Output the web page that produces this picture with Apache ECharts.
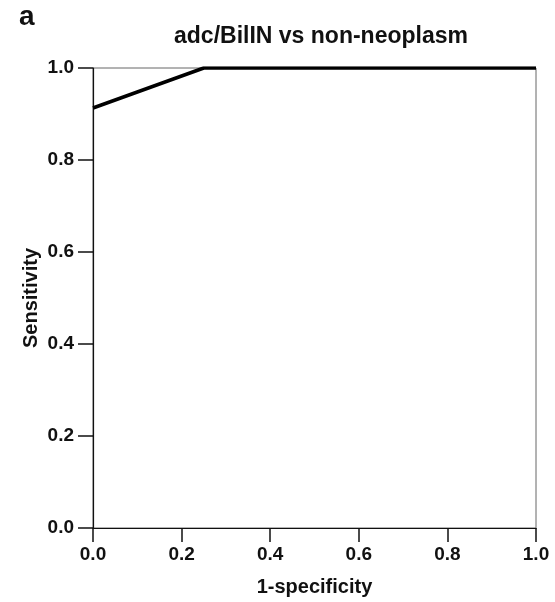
<!DOCTYPE html>
<html>
<head>
<meta charset="utf-8">
<script src="https://cdn.jsdelivr.net/npm/echarts@6/dist/echarts.min.js"></script>
<style>
  html, body { margin: 0; padding: 0; background: #fff; }
  #chart { width: 555px; height: 602px; }
</style>
</head>
<body>
<div id="chart"></div>
<script>
// ROC curve points
const fpr = [0.0, 0.25, 1.0];
const tpr = [0.913, 1.0, 1.0];
const tickStep = 0.2;

const font = 'Liberation Sans, Arial, sans-serif';
const chart = echarts.init(document.getElementById('chart'));

chart.setOption({
  animation: false,
  title: [
    {
      text: 'adc/BilIN vs non-neoplasm',
      left: 316, top: 20, textAlign: 'center',
      textStyle: { fontFamily: font, fontWeight: 'bold', fontSize: 23, color: '#111' }
    },
    {
      text: 'a',
      left: 14, top: -2,
      textStyle: { fontFamily: font, fontWeight: 'bold', fontSize: 28, color: '#111' }
    }
  ],
  grid: {
    left: 93, right: 19, top: 68, bottom: 74,
    outerBoundsMode: 'none',
    show: true, borderColor: '#666', borderWidth: 1
  },
  xAxis: {
    type: 'value', min: 0, max: 1, interval: tickStep,
    name: '1-specificity', nameLocation: 'middle', nameGap: 49,
    nameMoveOverlap: false,
    nameTextStyle: { fontFamily: font, fontWeight: 'bold', fontSize: 20, color: '#111' },
    axisLine: { onZero: false, lineStyle: { color: '#111', width: 1.2 } },
    axisTick: { show: true, inside: false, length: 14, lineStyle: { color: '#111', width: 1.5 } },
    axisLabel: {
      fontFamily: font, fontWeight: 'bold', fontSize: 19, color: '#111', margin: 17,
      formatter: v => v.toFixed(1)
    },
    splitLine: { show: false }
  },
  yAxis: {
    type: 'value', min: 0, max: 1, interval: tickStep,
    name: 'Sensitivity', nameLocation: 'middle', nameGap: 52,
    nameMoveOverlap: false,
    nameTextStyle: { fontFamily: font, fontWeight: 'bold', fontSize: 20, color: '#111' },
    axisLine: { show: true, onZero: false, lineStyle: { color: '#111', width: 1.2 } },
    axisTick: { show: true, inside: false, length: 15, lineStyle: { color: '#111', width: 1.5 } },
    axisLabel: {
      fontFamily: font, fontWeight: 'bold', fontSize: 19, color: '#111', margin: 19,
      formatter: v => v.toFixed(1)
    },
    splitLine: { show: false }
  },
  series: [
    {
      type: 'line',
      data: fpr.map((x, i) => [x, tpr[i]]),
      showSymbol: false,
      lineStyle: { color: '#000', width: 3.5 }
    }
  ]
});
</script>
</body>
</html>
